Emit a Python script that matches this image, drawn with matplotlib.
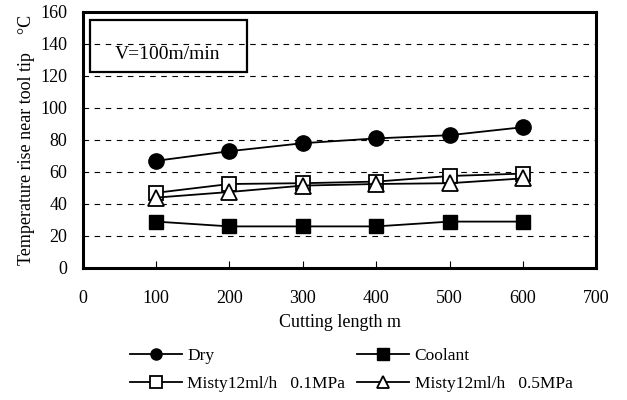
import matplotlib.pyplot as plt
from matplotlib.patches import Rectangle

plt.rcParams['font.family'] = ['Liberation Serif', 'DejaVu Serif']

# cutting length (m) and temperature rise (deg C)
length = [100, 200, 300, 400, 500, 600]
dry = [67, 73, 78, 81, 83, 88]
coolant = [29, 26, 26, 26, 29, 29]
misty_01 = [47, 52.5, 53, 54, 57.5, 59]
misty_05 = [44, 47.5, 51.5, 52.5, 53, 56]

labels = ['Dry', 'Coolant', 'Misty12ml/h\u2002 0.1MPa', 'Misty12ml/h\u2002 0.5MPa']

fig = plt.figure(figsize=(6.27, 4.0), dpi=100)
ax = fig.add_axes([0.132, 0.33, 0.819, 0.64])

l_dry, = ax.plot(length, dry, color='black', lw=1.3, marker='o', ms=11,
                 mfc='black', mec='black', zorder=5)
l_cool, = ax.plot(length, coolant, color='black', lw=1.3, marker='s', ms=10,
                  mfc='black', mec='black', zorder=5)
l_m1, = ax.plot(length, misty_01, color='black', lw=1.3, marker='s', ms=10,
                mfc='white', mec='black', mew=1.3, zorder=5)
l_m5, = ax.plot(length, misty_05, color='black', lw=1.3, marker='^', ms=11,
                mfc='white', mec='black', mew=1.3, zorder=6)

ax.set_xlim(0, 700)
ax.set_ylim(0, 160)
ax.set_xticks(range(0, 701, 100))
ax.set_yticks(range(0, 161, 20))

for yv in range(20, 160, 20):
    ax.axhline(yv, color='black', lw=0.8, ls=(0, (5, 5)), zorder=1)

for s in ax.spines.values():
    s.set_linewidth(2.2)

ax.tick_params(axis='x', direction='in', length=5, width=0.8, pad=16, labelsize=13)
ax.tick_params(axis='y', length=0, pad=11, labelsize=13)

ax.set_xlabel('Cutting length m', fontsize=13, labelpad=5)
ax.set_ylabel('Temperature rise near tool tip    \u00b0C', fontsize=13, labelpad=4)

# condition box
ax.add_patch(Rectangle((0.014, 0.766), 0.306, 0.203, transform=ax.transAxes,
                       fill=False, ec='black', lw=1.6, zorder=7))
ax.text(0.166, 0.833, 'V=100m/min', transform=ax.transAxes, ha='center',
        va='center', fontsize=14, zorder=8)

leg = fig.legend([l_dry, l_m1, l_cool, l_m5],
                 [labels[0], labels[2], labels[1], labels[3]],
                 ncol=2, loc='upper left', bbox_to_anchor=(0.207, 0.13),
                 frameon=False, fontsize=12.5, handlelength=3.0,
                 handletextpad=0.3, columnspacing=0.7, labelspacing=0.7,
                 borderaxespad=0, borderpad=0)
for h in leg.legend_handles:
    h.set_markersize(8)

fig.savefig('out.png', dpi=100)
